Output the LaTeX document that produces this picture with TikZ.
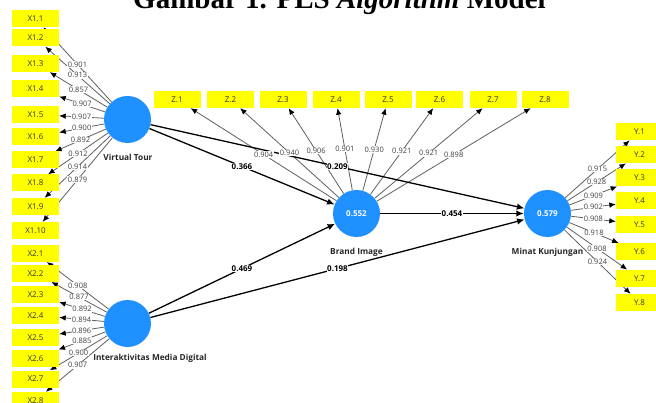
\documentclass[tikz,border=0pt]{standalone}
\usepackage{fontspec}
\setmainfont{Open Sans}
\newfontfamily\titlefont{Liberation Serif}
\usetikzlibrary{arrows.meta,calc}
\pgfdeclarelayer{lines}
\pgfdeclarelayer{labels}
\pgfsetlayers{lines,labels,main}
\definecolor{lvblue}{RGB}{30,144,255}
\definecolor{indyellow}{RGB}{255,255,0}
\definecolor{loadgray}{RGB}{95,95,95}
\definecolor{loadtext}{RGB}{65,65,65}
\begin{document}
\begin{tikzpicture}[x=1pt,y=-1pt,
  ind/.style={fill=indyellow, minimum width=47pt, minimum height=17pt, inner sep=0pt,
    font=\fontsize{8}{9}\selectfont, text=black!80},
  lv/.style={circle, fill=lvblue, minimum size=47pt, inner sep=0pt, text=white,
    font=\bfseries\fontsize{8}{9}\selectfont},
  lvname/.style={font=\bfseries\fontsize{8.3}{9}\selectfont, text=black!85, inner sep=0pt},
  loadline/.style={draw=loadgray, line width=0.8pt, -{Latex[length=6.5pt,width=5.5pt,color=black]}},
  pathline/.style={draw=black, line width=1.3pt, -{Latex[length=7.5pt,width=6.5pt]}},
  loadlab/.style={fill=white, inner sep=0.5pt, font=\fontsize{7.5}{8}\selectfont, text=loadtext},
  pathlab/.style={fill=white, inner sep=0.5pt, font=\bfseries\fontsize{8}{9}\selectfont, text=black}
]
\useasboundingbox (0,0) rectangle (656,403);

% title (partly cut at the top)
\node[anchor=base west, inner sep=0pt, font=\titlefont\bfseries\fontsize{29}{30}\selectfont]
  (title) at (133,8.5) {Gambar 1. PLS \textit{Algorithm} Model};

% latent variables
\node[lv] (vt)  at (127.5,119.5) {};
\node[lv] (imd) at (127.5,323.5) {};
\node[lv] (bi)  at (356.5,213.5) {0.552};
\node[lv] (mk)  at (547.5,213.5) {0.579};
\node[lvname] (vtname)  at (128,157) {Virtual Tour};
\node[lvname] (imdname) at (150,358) {Interaktivitas Media Digital};
\node[lvname] (biname)  at (356.5,252.5) {Brand Image};
\node[lvname] (mkname)  at (547.5,252.5) {Minat Kunjungan};

% indicators
\foreach \i/\yy in {1/18.5,2/38,3/63.5,4/88.5,5/114.5,6/137,7/160,8/183,9/206.5,10/230.5}
  \node[ind] (x1-\i) at (35.5,\yy) {X1.\i};
\foreach \i/\yy in {1/253.3,2/273.3,3/294.7,4/315.3,5/337.7,6/358.3,7/379,8/400.5}
  \node[ind] (x2-\i) at (35.5,\yy) {X2.\i};
\foreach \i/\xx in {1/177,2/230.5,3/283,4/336,5/388,6/439.5,7/493,8/545}
  \node[ind] (z-\i) at (\xx,99.5) {Z.\i};
\foreach \i/\yy in {1/131.7,2/154.7,3/177.7,4/201,5/224.3,6/251.7,7/278.3,8/302.5}
  \node[ind] (y-\i) at (639.5,\yy) {Y.\i};

% connectors
\begin{pgfonlayer}{lines}
  \foreach \i in {1,...,10}
    \draw[loadline] (vt) -- coordinate[pos=0.5] (cx1-\i) (x1-\i);
  \foreach \i in {1,...,8} {
    \draw[loadline] (imd) -- coordinate[pos=0.5] (cx2-\i) (x2-\i);
    \draw[loadline] (bi) -- coordinate[pos=0.5] (cz-\i) (z-\i);
    \draw[loadline] (mk) -- coordinate[pos=0.5] (cy-\i) (y-\i);
  }
  \draw[pathline] (vt) -- coordinate[pos=0.5] (p1) (bi);
  \draw[pathline] (vt) -- coordinate[pos=0.5] (p2) (mk);
  \draw[pathline] (imd) -- coordinate[pos=0.5] (p3) (bi);
  \draw[pathline] (imd) -- coordinate[pos=0.5] (p4) (mk);
  \draw[pathline] (bi) -- coordinate[pos=0.5] (p5) (mk);
\end{pgfonlayer}

% labels
\begin{pgfonlayer}{labels}
  \foreach \i/\l in {1/0.901,2/0.913,3/0.857,4/0.907,5/0.907,6/0.900,7/0.892,8/0.912,9/0.914,10/0.879}
    \node[loadlab] at (cx1-\i) {\l};
  \foreach \i/\l in {1/0.908,2/0.877,3/0.892,4/0.894,5/0.896,6/0.885,7/0.900,8/0.907}
    \node[loadlab] at (cx2-\i) {\l};
  \foreach \i/\l in {1/0.904,2/0.940,3/0.906,4/0.901,5/0.930,6/0.921,7/0.921,8/0.898}
    \node[loadlab] at (cz-\i) {\l};
  \foreach \i/\l in {1/0.915,2/0.928,3/0.909,4/0.902,5/0.908,6/0.918,7/0.908,8/0.924}
    \node[loadlab] at (cy-\i) {\l};
  \node[pathlab] at (p1) {0.366};
  \node[pathlab] at (p2) {0.209};
  \node[pathlab] at (p3) {0.469};
  \node[pathlab] at (p4) {0.198};
  \node[pathlab] at (p5) {0.454};
\end{pgfonlayer}
\end{tikzpicture}
\end{document}
